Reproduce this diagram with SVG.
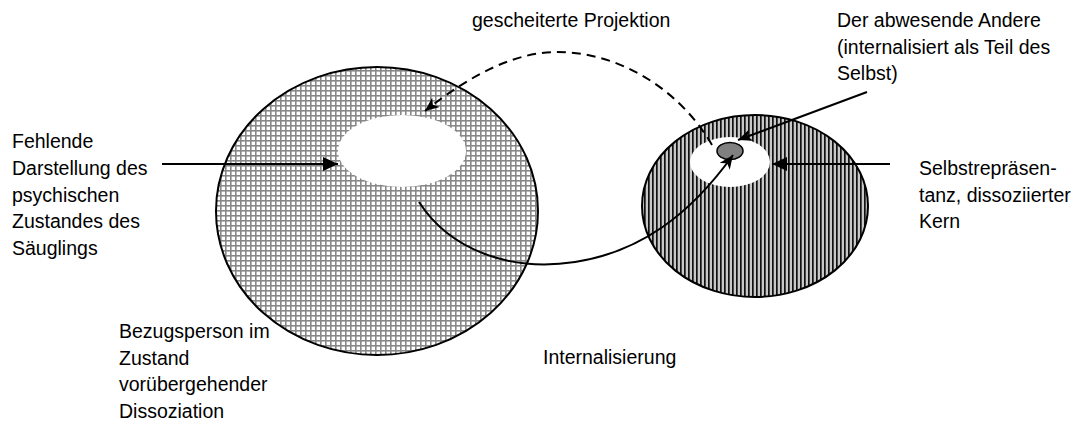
<svg xmlns="http://www.w3.org/2000/svg" width="1077" height="425" viewBox="0 0 1077 425">
<style>
text{font-family:"Liberation Sans",Arial,sans-serif;font-size:19.5px;fill:#000}
.conn{fill:none;stroke:#000;stroke-width:2}
.dash{stroke-dasharray:9,6}
.outline{stroke:#000;stroke-width:2}
</style>
<defs>
<pattern id="grid" width="5" height="5" patternUnits="userSpaceOnUse">
<rect width="5" height="5" fill="#fff"/>
<rect x="0" y="0" width="1.6" height="5" fill="#888"/>
<rect x="0" y="0" width="5" height="1.6" fill="#888"/>
</pattern>
<pattern id="stripes" width="4" height="4" patternUnits="userSpaceOnUse">
<rect width="4" height="4" fill="#c8c8c8"/>
<rect x="0" y="0" width="1.7" height="4" fill="#111"/>
</pattern>
<marker id="tri" markerUnits="userSpaceOnUse" viewBox="0 0 15 14" refX="15" refY="7" markerWidth="15" markerHeight="14" orient="auto">
<path d="M0,0 L15,7 L0,14 z" fill="#000"/>
</marker>
<marker id="stealth" markerUnits="userSpaceOnUse" viewBox="0 0 14 12" refX="14" refY="6" markerWidth="14" markerHeight="12" orient="auto">
<path d="M0,0 L14,6 L0,12 L4,6 z" fill="#000"/>
</marker>
</defs>
<g id="bezugsperson">
<ellipse cx="377" cy="211" rx="161" ry="144" fill="url(#grid)" class="outline"/>
<ellipse cx="402" cy="151" rx="64" ry="36" fill="#fff"/>
</g>
<g id="selbst">
<ellipse cx="755" cy="206" rx="113" ry="91" fill="url(#stripes)" class="outline"/>
<ellipse cx="730" cy="162" rx="40" ry="25" fill="#fff"/>
</g>
<g id="abwesender-anderer">
<ellipse cx="730" cy="151" rx="13" ry="8.5" fill="#808080" stroke="#000" stroke-width="1.5"/>
</g>
<g id="connectors">
<path class="conn dash" d="M712,145 C680,90 620,52 557,52 C515,52 470,75 425,111" marker-end="url(#stealth)"/>
<path class="conn" d="M419,202 C450,250 510,272 575,262 C640,252 690,215 733,155" marker-end="url(#stealth)"/>
<path class="conn" d="M162,164 L338,164" marker-end="url(#tri)"/>
<path class="conn" d="M890,164 L772,164" marker-end="url(#tri)"/>
<path class="conn" d="M867,92 L738,140" marker-end="url(#stealth)"/>
</g>
<g id="labels">
<text x="472" y="27">gescheiterte Projektion</text>
<text x="837" y="27">Der abwesende Andere</text>
<text x="837" y="53.5">(internalisiert als Teil des</text>
<text x="837" y="80">Selbst)</text>
<text x="12" y="148">Fehlende</text>
<text x="12" y="175">Darstellung des</text>
<text x="12" y="201.5">psychischen</text>
<text x="12" y="228">Zustandes des</text>
<text x="12" y="255">Säuglings</text>
<text x="919" y="175">Selbstrepräsen-</text>
<text x="919" y="202">tanz, dissoziierter</text>
<text x="919" y="228">Kern</text>
<text x="119" y="338">Bezugsperson im</text>
<text x="119" y="365">Zustand</text>
<text x="119" y="391">vorübergehender</text>
<text x="119" y="418">Dissoziation</text>
<text x="543" y="364">Internalisierung</text>
</g>
</svg>
